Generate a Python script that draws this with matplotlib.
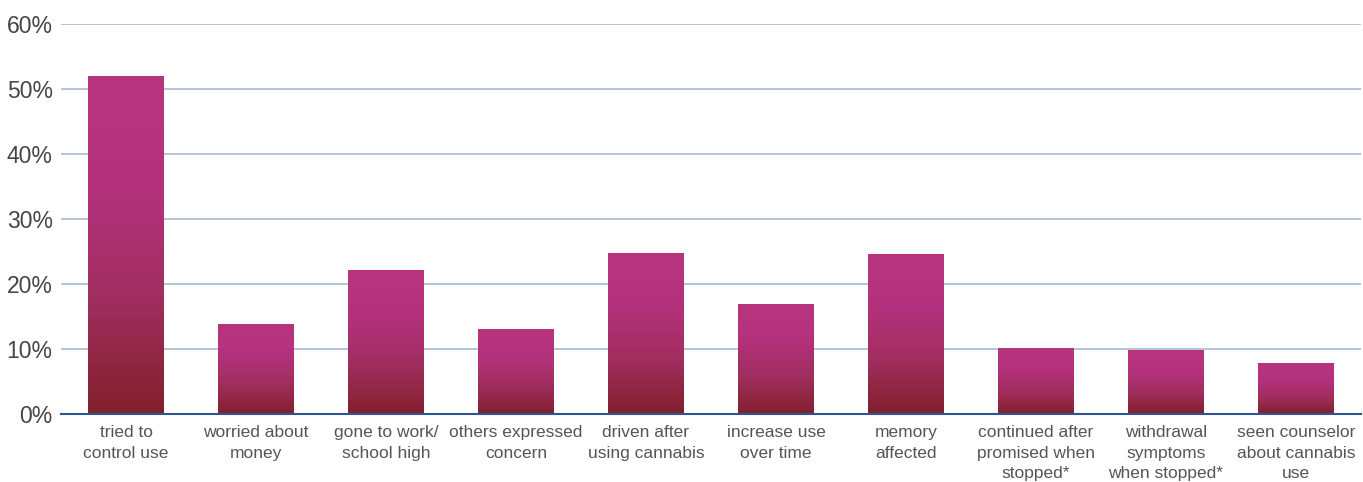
import matplotlib
matplotlib.use("Agg")
import matplotlib.pyplot as plt
from matplotlib.colors import LinearSegmentedColormap
import numpy as np

categories = [
    "tried to\ncontrol use",
    "worried about\nmoney",
    "gone to work/\nschool high",
    "others expressed\nconcern",
    "driven after\nusing cannabis",
    "increase use\nover time",
    "memory\naffected",
    "continued after\npromised when\nstopped*",
    "withdrawal\nsymptoms\nwhen stopped*",
    "seen counselor\nabout cannabis\nuse",
]
values = [52.0, 13.8, 22.2, 13.1, 24.8, 16.9, 24.6, 10.2, 9.8, 7.8]
yticks = [0, 10, 20, 30, 40, 50, 60]
ytick_labels = [f"{t}%" for t in yticks]

plt.rcParams["font.family"] = ["Liberation Sans", "DejaVu Sans"]

fig = plt.figure(figsize=(13.63, 4.82), dpi=100)
ax = fig.add_axes([61 / 1363, 0.141, 1300 / 1363, 0.809])

x = np.arange(len(categories))
bars = ax.bar(x, values, width=0.58, color="none", zorder=3)

# vertical gradient fill: dark red at the base, magenta at the top
grad = LinearSegmentedColormap.from_list("bar", ["#82202c", "#a02e5e", "#b4327d", "#b8347f"])
gimg = np.linspace(0, 1, 256).reshape(-1, 1)
for b in bars:
    x0, y0 = b.get_x(), b.get_y()
    w, h = b.get_width(), b.get_height()
    im = ax.imshow(gimg, cmap=grad, origin="lower", aspect="auto",
                   extent=(x0, x0 + w, y0, y0 + h), zorder=3, interpolation="bilinear")
    im.set_clip_path(b)

ax.set_xlim(-0.5, len(categories) - 0.5)
ax.set_ylim(0, 60)
ax.set_yticks(yticks)
ax.set_yticklabels(ytick_labels, fontsize=16.5, color="#454545")
ax.set_xticks(x)
ax.set_xticklabels(categories, fontsize=12.5, color="#555555", linespacing=1.45)
ax.tick_params(axis="x", length=0, pad=8)
ax.tick_params(axis="y", length=0, pad=6)

ax.yaxis.grid(True, color="#a7bad3", linewidth=1.2, zorder=0)
ax.set_axisbelow(True)
for s in ["top", "right", "left"]:
    ax.spines[s].set_visible(False)
ax.spines["bottom"].set_color("#2e5590")
ax.spines["bottom"].set_linewidth(1.5)
ax.spines["bottom"].set_zorder(4)

fig.savefig("out.png", dpi=100)
